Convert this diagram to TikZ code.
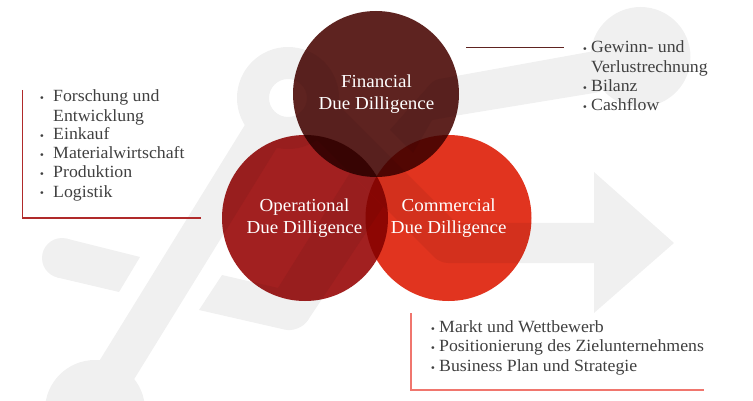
\documentclass[tikz,border=0pt]{standalone}
\usepackage{fontspec}
\setmainfont{Liberation Serif}[FakeStretch=1.04]
\usetikzlibrary{calc}
\definecolor{icongray}{HTML}{F0F0F0}
\definecolor{finc}{HTML}{5E2320}
\definecolor{opc}{HTML}{A22020}
\definecolor{comc}{HTML}{E1341F}
\definecolor{txtc}{HTML}{404040}
\definecolor{linered}{HTML}{B02A2A}
\definecolor{linesalmon}{HTML}{F0766E}
\tikzset{
  venn/.style={circle,minimum size=166pt,inner sep=0pt,blend mode=multiply},
  vennlabel/.style={align=center,text=white,inner sep=0pt,font=\fontsize{18.3}{22}\selectfont},
  listline/.style={anchor=base west,inner sep=0pt,text=txtc,font=\fontsize{17.1}{19}\selectfont},
  listdot/.style={anchor=base,inner sep=0pt,text=txtc,font=\fontsize{16.4}{19}\selectfont\bfseries},
  rule/.style={line width=1.2pt}
}
\begin{document}
\begin{tikzpicture}[x=1pt,y=-1pt]
\useasboundingbox (0,0) rectangle (753,401);
% background icon
\fill[icongray,even odd rule] (288,98) circle[radius=51pt] (288,98) circle[radius=19pt];
\fill[icongray] (95,410) circle[radius=50pt];
\fill[icongray] (640.5,57) circle[radius=50pt];
\fill[icongray] (62,258) circle[radius=20pt];
\fill[icongray] (66.6,238.6) -- (140,257) -- (119,292) -- (57.4,277.5) -- cycle;
\fill[icongray] (90,376) -- (251,115) -- (281,141) -- (125,394) -- cycle;
\fill[icongray] (310,133) [rounded corners=8pt] -- (440,263) [sharp corners] -- (594,263) -- (594,313) -- (674,243) -- (594,172) -- (594,223) -- (456,223) -- (332,99) -- cycle;
\fill[icongray] (600,50) [rounded corners=5pt] -- (434,80) [sharp corners] -- (390,130) -- (413,153) -- (432,120) -- (460,115) -- (600,92) -- cycle;
\fill[icongray] (222,275) -- (278,288) -- (350,173) -- (383,207) -- (318,305) [rounded corners=15pt] -- (299.5,333) [sharp corners] -- (199,310) -- cycle;
% rules
\coordinate (la) at (22.5,90); \coordinate (lb) at (22.5,218); \coordinate (lc) at (201,218);
\coordinate (ta) at (466,47.5); \coordinate (tb) at (564,47.5);
\coordinate (ba) at (411,313); \coordinate (bb) at (411,390); \coordinate (bc) at (704,390);
\draw[rule,linered] (la) -- (lb) -- (lc);
\draw[rule,finc] (ta) -- (tb);
\draw[rule,linesalmon] (ba) -- (bb) -- (bc);
% circles
\node[venn,fill=finc] (fin) at (376,94) {};
\node[venn,fill=opc] (op) at (305,218) {};
\node[venn,fill=comc] (com) at (448.5,218) {};
\node[vennlabel] (finl) at (376.5,94) {Financial\\Due Dilligence};
\node[vennlabel] (opl) at (304.5,218) {Operational\\Due Dilligence};
\node[vennlabel] (coml) at (448.7,218) {Commercial\\Due Dilligence};
% left list
\node[listdot] (d1) at (42,103.5) {·};
\node[listline] (l1) at (53,101.5) {Forschung und};
\node[listline] (l1b) at (53,121.5) {Entwicklung};
\node[listdot] (d2) at (42,142) {·};
\node[listline] (l2) at (53,140) {Einkauf};
\node[listdot] (d3) at (42,161) {·};
\node[listline] (l3) at (53,159) {Materialwirtschaft};
\node[listdot] (d4) at (42,180) {·};
\node[listline] (l4) at (53,178) {Produktion};
\node[listdot] (d5) at (42,199) {·};
\node[listline] (l5) at (53,197) {Logistik};
% right list
\node[listdot] (r1d) at (585,55) {·};
\node[listline] (r1) at (591,53) {Gewinn- und};
\node[listline] (r1b) at (591,73) {Verlustrechnung};
\node[listdot] (r2d) at (585,94) {·};
\node[listline] (r2) at (591,92) {Bilanz};
\node[listdot] (r3d) at (585,113) {·};
\node[listline] (r3) at (591,111) {Cashflow};
% bottom list
\node[listdot] (b1d) at (433,334) {·};
\node[listline] (b1) at (439,332) {Markt und Wettbewerb};
\node[listdot] (b2d) at (433,353) {·};
\node[listline] (b2) at (439,351) {Positionierung des Zielunternehmens};
\node[listdot] (b3d) at (433,373) {·};
\node[listline] (b3) at (439,371) {Business Plan und Strategie};
\end{tikzpicture}
\end{document}
